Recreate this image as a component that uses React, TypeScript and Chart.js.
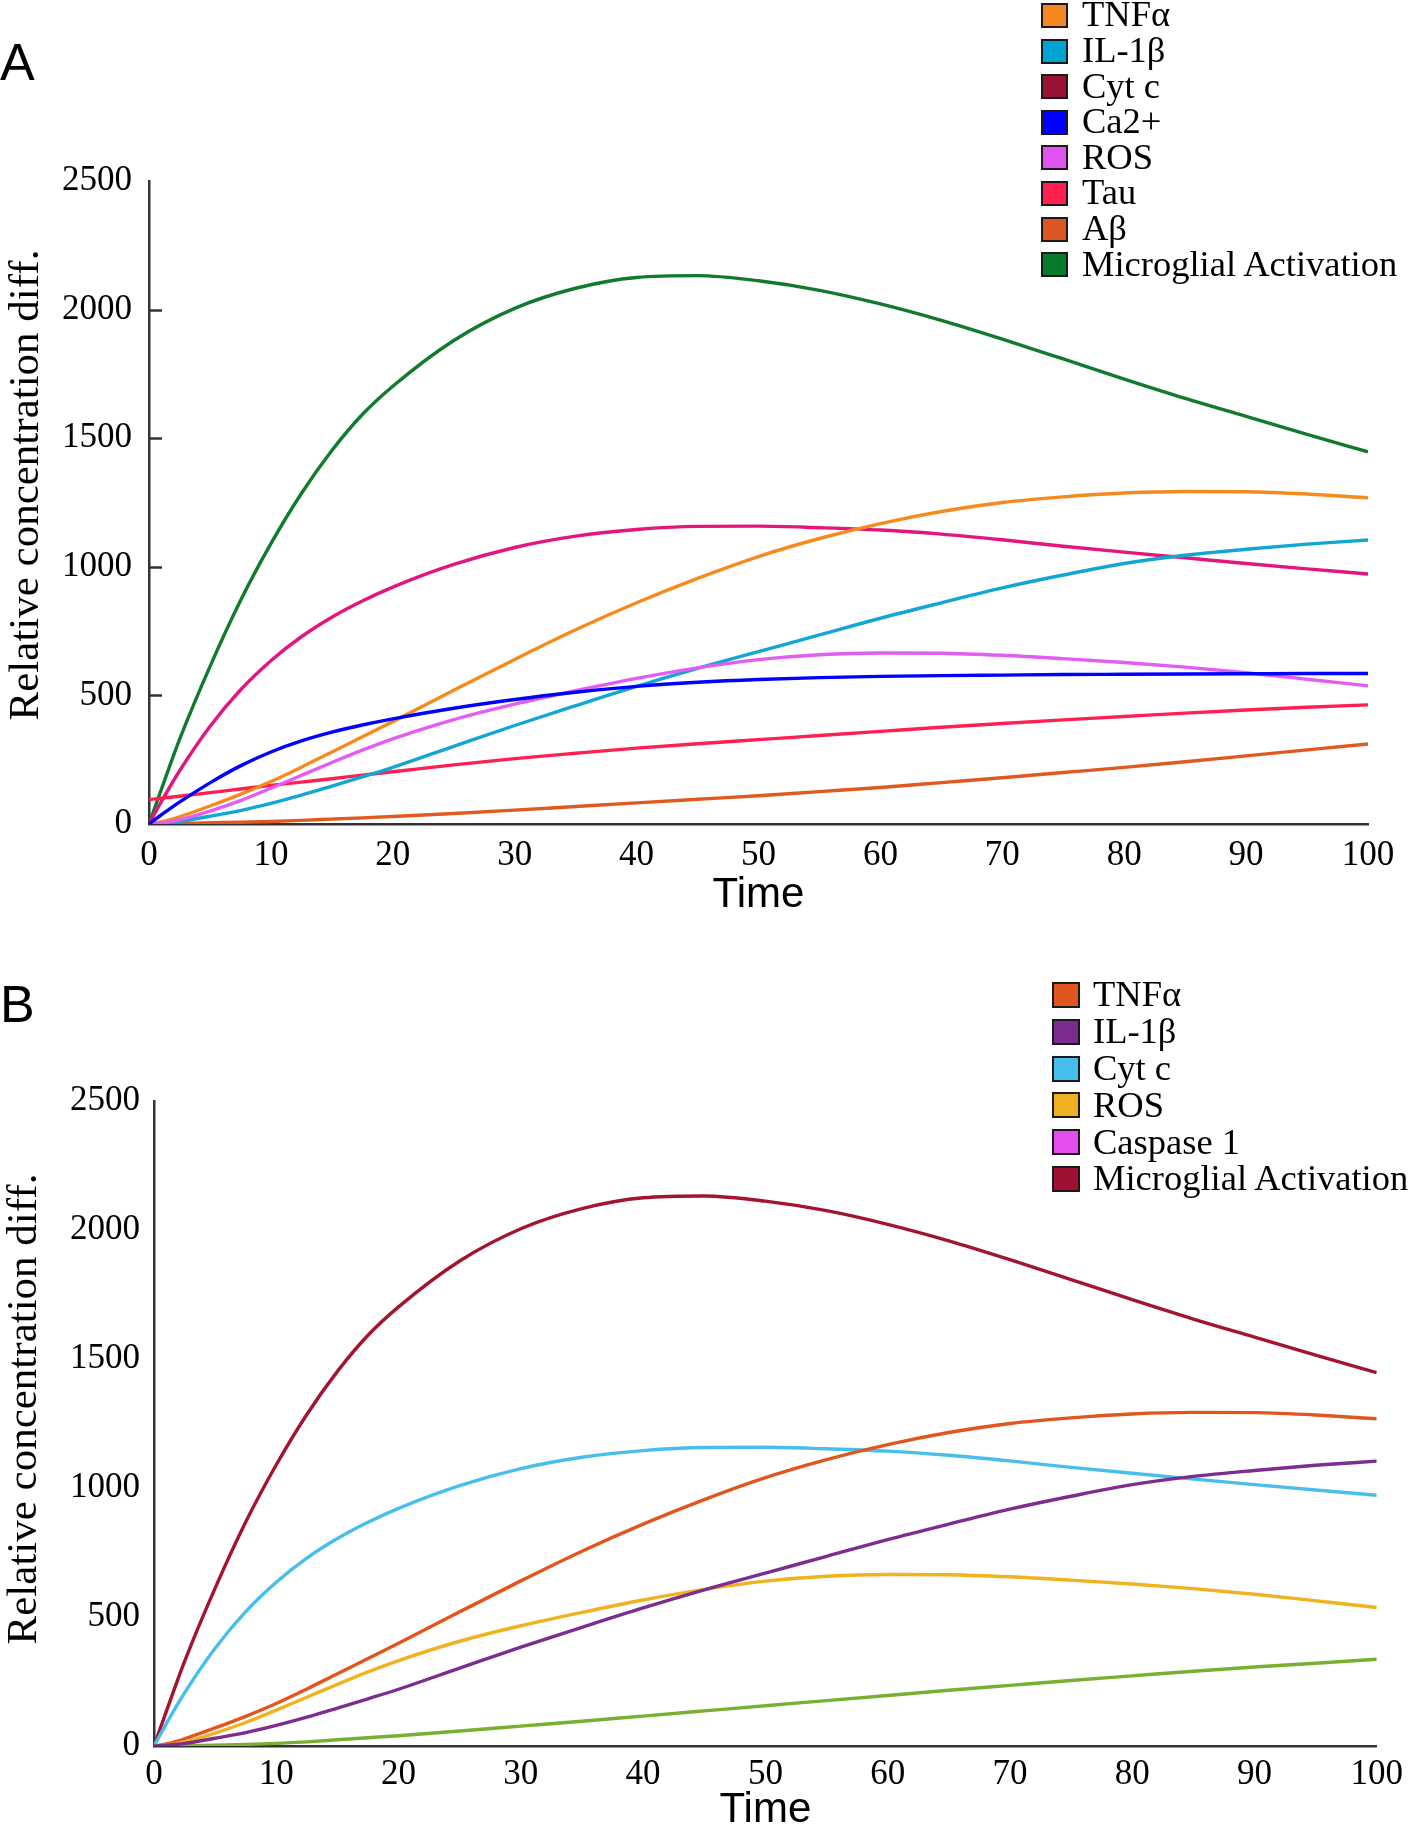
import React, { useEffect, useRef } from "react";
import { Chart, registerables } from "chart.js";

Chart.register(...registerables);

// ---------------- data ----------------
const time = [0, 1, 2.5, 5, 7.5, 10, 12.5, 15, 17.5, 20, 25, 30, 35, 40, 45, 50, 55, 60, 65, 70, 75, 80, 85, 90, 95, 100];

const microglial = [0, 133, 328, 612, 868, 1090, 1285, 1452, 1592, 1702, 1880, 2005, 2083, 2125, 2132, 2112, 2075, 2022, 1958, 1885, 1808, 1730, 1655, 1585, 1515, 1447];
const cytC = [0, 86, 206, 379, 521, 635, 728, 804, 867, 921, 1009, 1075, 1119, 1145, 1157, 1158, 1152, 1143, 1127, 1105, 1080, 1057, 1035, 1013, 992, 972];
const tnfAlpha = [0, 8, 28, 70, 115, 165, 221, 280, 339, 398, 520, 640, 755, 860, 955, 1040, 1110, 1168, 1215, 1250, 1272, 1287, 1293, 1292, 1283, 1268];
const il1Beta = [0, 3, 10, 30, 52, 80, 112, 147, 183, 220, 302, 383, 460, 535, 605, 670, 735, 800, 860, 918, 968, 1013, 1045, 1068, 1088, 1104];
const ros = [0, 4, 16, 50, 91, 139, 189, 239, 287, 331, 406, 466, 518, 566, 607, 639, 658, 665, 664, 656, 643, 628, 610, 588, 563, 537];
const ca2 = [0, 35, 85, 160, 226, 280, 323, 357, 385, 409, 450, 484, 512, 535, 551, 562, 569, 574, 577, 579, 581, 582, 583, 584, 585, 585];
const tau = [95, 100, 108, 122, 136, 150, 163, 176, 190, 203, 230, 254, 275, 295, 312, 328, 344, 360, 376, 391, 405, 418, 431, 443, 454, 463];
const aBeta = [0, 1, 2, 5, 7, 10, 14, 19, 24, 29, 41, 54, 68, 82, 96, 110, 126, 142, 161, 180, 200, 220, 242, 265, 288, 311];
const caspase1 = [0, 0, 1, 3, 6, 10, 16, 24, 32, 40, 58, 77, 96, 116, 136, 156, 176, 196, 216, 235, 254, 272, 290, 306, 321, 336];

const xTickValues = [0, 10, 20, 30, 40, 50, 60, 70, 80, 90, 100];
const yTickValues = [0, 500, 1000, 1500, 2000, 2500];
const innerTickValues = [500, 1000, 1500, 2000];

const yTitle = "Relative concentration diff.";
const xTitle = "Time";

const legendLabelsA = ["TNFα", "IL-1β", "Cyt c", "Ca2+", "ROS", "Tau", "Aβ", "Microglial Activation"];
const legendColorsA = ["#F6861F", "#00A4D4", "#9B1232", "#0000FF", "#E252F2", "#FF2050", "#DD5520", "#087A2B"];
const legendLabelsB = ["TNFα", "IL-1β", "Cyt c", "ROS", "Caspase 1", "Microglial Activation"];
const legendColorsB = ["#E0561E", "#7A2B8E", "#46BDEC", "#EFB021", "#E34FEF", "#9E1131"];

// ---------------- styles ----------------
const SERIF = "'Liberation Serif', 'Times New Roman', Times, serif";
const SANS = "'Liberation Sans', Arial, Helvetica, sans-serif";
const AXIS = "#333333";

type Series = { label: string; values: number[]; color: string };

const seriesA: Series[] = [
  { label: "Ca2+", values: ca2, color: "#0000FF" },
  { label: "ROS", values: ros, color: "#E35CF4" },
  { label: "IL-1β", values: il1Beta, color: "#12A6D6" },
  { label: "TNFα", values: tnfAlpha, color: "#F68A1E" },
  { label: "Tau", values: tau, color: "#FF2052" },
  { label: "Aβ", values: aBeta, color: "#E05A20" },
  { label: "Cyt c", values: cytC, color: "#E3167F" },
  { label: "Microglial Activation", values: microglial, color: "#127A2C" },
];

const seriesB: Series[] = [
  { label: "IL-1β", values: il1Beta, color: "#7D2C8F" },
  { label: "ROS", values: ros, color: "#F0B21F" },
  { label: "TNFα", values: tnfAlpha, color: "#E1561E" },
  { label: "Caspase 1", values: caspase1, color: "#78B030" },
  { label: "Cyt c", values: cytC, color: "#48BEEC" },
  { label: "Microglial Activation", values: microglial, color: "#A3142F" },
];

type PanelSpec = {
  top: number;
  height: number;
  padding: { top: number; right: number; bottom: number; left: number };
  yWidth: number;
  xHeight: number;
  xTickPad: number;
  yTickPad: number;
  innerTicks: boolean;
  series: Series[];
};

const panelA: PanelSpec = {
  top: 0,
  height: 930,
  padding: { top: 181, right: 43, bottom: 9, left: 0 },
  yWidth: 149,
  xHeight: 97,
  xTickPad: 11,
  yTickPad: 17,
  innerTicks: true,
  series: seriesA,
};

const panelB: PanelSpec = {
  top: 940,
  height: 900,
  padding: { top: 161, right: 31, bottom: 4, left: 0 },
  yWidth: 154,
  xHeight: 90,
  xTickPad: 8,
  yTickPad: 14,
  innerTicks: false,
  series: seriesB,
};

function makeInnerTickPlugin(enabled: boolean) {
  return {
    id: "innerTicks",
    afterDraw(chart: any) {
      if (!enabled) return;
      const ys = chart.scales.y;
      const left = chart.chartArea.left;
      const ctx = chart.ctx;
      ctx.save();
      ctx.strokeStyle = AXIS;
      ctx.lineWidth = 2.5;
      for (const v of innerTickValues) {
        const py = Math.round(ys.getPixelForValue(v)) + 0.5;
        ctx.beginPath();
        ctx.moveTo(left, py);
        ctx.lineTo(left + 13, py);
        ctx.stroke();
      }
      ctx.restore();
    },
  };
}

function buildConfig(spec: PanelSpec): any {
  return {
    type: "line",
    data: {
      datasets: spec.series.map((s) => ({
        label: s.label,
        data: time.map((t, i) => ({ x: t, y: s.values[i] })),
        borderColor: s.color,
        backgroundColor: s.color,
        borderWidth: 3.4,
        pointRadius: 0,
        fill: false,
        cubicInterpolationMode: "monotone",
      })),
    },
    plugins: [makeInnerTickPlugin(spec.innerTicks)],
    options: {
      animation: false,
      responsive: false,
      maintainAspectRatio: false,
      events: [],
      layout: { padding: spec.padding },
      plugins: {
        legend: { display: false },
        tooltip: { enabled: false },
        title: { display: false },
      },
      scales: {
        x: {
          type: "linear",
          min: 0,
          max: 100,
          afterBuildTicks: (s: any) => {
            s.ticks = xTickValues.map((v) => ({ value: v }));
          },
          grid: { display: false, drawTicks: false },
          border: { display: true, color: AXIS, width: 2.5 },
          ticks: {
            color: "#000",
            font: { family: SERIF, size: 35 },
            padding: spec.xTickPad,
            maxRotation: 0,
            autoSkip: false,
            callback: (v: any) => String(v),
          },
          title: {
            display: true,
            text: xTitle,
            color: "#000",
            font: { family: SANS, size: 42, lineHeight: 1.2 },
            padding: 0,
          },
          afterFit: (s: any) => {
            s.height = spec.xHeight;
          },
        },
        y: {
          type: "linear",
          min: 0,
          max: 2500,
          afterBuildTicks: (s: any) => {
            s.ticks = yTickValues.map((v) => ({ value: v }));
          },
          grid: { display: false, drawTicks: false },
          border: { display: true, color: AXIS, width: 2.5 },
          ticks: {
            color: "#000",
            font: { family: SERIF, size: 35 },
            padding: spec.yTickPad,
            callback: (v: any) => String(v),
          },
          title: { display: false },
          afterFit: (s: any) => {
            s.width = spec.yWidth;
          },
        },
      },
    },
  };
}

function Panel({ spec }: { spec: PanelSpec }) {
  const ref = useRef<HTMLCanvasElement | null>(null);
  useEffect(() => {
    if (!ref.current) return;
    const chart = new Chart(ref.current, buildConfig(spec));
    return () => chart.destroy();
  }, [spec]);
  return (
    <canvas
      ref={ref}
      width={1411}
      height={spec.height}
      style={{ position: "absolute", left: 0, top: spec.top, width: 1411, height: spec.height }}
    />
  );
}

function YTitle({ cx, cy }: { cx: number; cy: number }) {
  const fs = 43;
  return (
    <div
      style={{
        position: "absolute",
        left: cx,
        top: cy,
        transform: "translate(-50%, -50%) rotate(-90deg)",
        fontFamily: SERIF,
        fontSize: fs,
        lineHeight: `${fs}px`,
        whiteSpace: "nowrap",
        color: "#000",
      }}
    >
      {yTitle}
    </div>
  );
}

function Legend({
  labels,
  colors,
  left,
  top,
  step,
  box,
  textLeft,
  fontSize,
}: {
  labels: string[];
  colors: string[];
  left: number;
  top: number;
  step: number;
  box: { w: number; h: number };
  textLeft: number;
  fontSize: number;
}) {
  return (
    <>
      {labels.map((lab, i) => {
        const bt = top + i * step;
        const baseline = bt + box.h - 1;
        return (
          <React.Fragment key={lab + i}>
            <div
              style={{
                position: "absolute",
                left,
                top: bt,
                width: box.w,
                height: box.h,
                boxSizing: "border-box",
                border: "2px solid #1a1a1a",
                background: colors[i],
              }}
            />
            <div
              style={{
                position: "absolute",
                left: textLeft,
                top: baseline - 0.8375 * fontSize,
                fontFamily: SERIF,
                fontSize,
                lineHeight: `${fontSize}px`,
                color: "#000",
                whiteSpace: "nowrap",
              }}
            >
              {lab}
            </div>
          </React.Fragment>
        );
      })}
    </>
  );
}

function PanelLetter({ text, baseline }: { text: string; baseline: number }) {
  const fs = 52;
  return (
    <div
      style={{
        position: "absolute",
        left: 0,
        top: baseline - 0.8465 * fs,
        fontFamily: SANS,
        fontSize: fs,
        lineHeight: `${fs}px`,
        color: "#000",
      }}
    >
      {text}
    </div>
  );
}

export default function App() {
  return (
    <div
      style={{
        position: "absolute",
        left: 0,
        top: 0,
        width: 1411,
        height: 1826,
        overflow: "hidden",
        background: "#fff",
      }}
    >
      <Panel spec={panelA} />
      <Panel spec={panelB} />
      <YTitle cx={22.5} cy={485} />
      <YTitle cx={21} cy={1409} />
      <PanelLetter text="A" baseline={80} />
      <PanelLetter text="B" baseline={1022} />
      <Legend
        labels={legendLabelsA}
        colors={legendColorsA}
        left={1041}
        top={3}
        step={35.6}
        box={{ w: 27, h: 25 }}
        textLeft={1082}
        fontSize={36.5}
      />
      <Legend
        labels={legendLabelsB}
        colors={legendColorsB}
        left={1052}
        top={982}
        step={36.8}
        box={{ w: 28, h: 26 }}
        textLeft={1093}
        fontSize={36.5}
      />
    </div>
  );
}
